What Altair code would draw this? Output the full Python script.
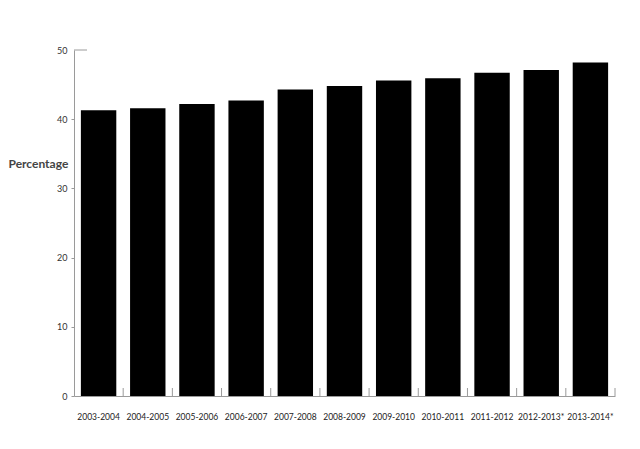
import altair as alt
import pandas as pd

years = ["2003-2004", "2004-2005", "2005-2006", "2006-2007", "2007-2008",
         "2008-2009", "2009-2010", "2010-2011", "2011-2012", "2012-2013*", "2013-2014*"]
values = [41.3, 41.6, 42.2, 42.7, 44.3, 44.8, 45.6, 45.9, 46.7, 47.1, 48.2]
y_ticks = [0, 10, 20, 30, 40, 50]

df = pd.DataFrame({"year": years, "value": values})

W, H = 541, 346
STEP = W / len(years)
GRAY = "#9a9a9a"

xenc = alt.X(
    "year:N", sort=years,
    scale=alt.Scale(paddingInner=0.28, paddingOuter=0.14),
    axis=alt.Axis(title=None, labelAngle=0, ticks=False, tickSize=0, labelPadding=16,
                  labelFont="Lato", labelFontSize=8.5, labelColor="#222",
                  domainColor=GRAY, domainWidth=1),
)

yenc = alt.Y(
    "value:Q",
    scale=alt.Scale(domain=[0, 50], nice=False),
    axis=alt.Axis(values=y_ticks, grid=False, tickSize=3, labelPadding=4,
                  tickColor={"condition": {"test": "datum.value === 50", "value": "transparent"}, "value": GRAY},
                  domainColor=GRAY, labelFont="Lato", labelFontSize=9, labelColor="#333",
                  title="Percentage", titleAngle=0, titleX=-66, titleY=113,
                  titleAlign="left", titleBaseline="middle", titleFont="Lato",
                  titleFontSize=12, titleFontWeight="bold", titleColor="#444"),
)

bars = alt.Chart(df).mark_bar(color="black").encode(x=xenc, y=yenc)

xticks = alt.Chart(df).mark_rule(color=GRAY, xOffset=STEP / 2, strokeWidth=1).encode(
    x=alt.X("year:N", sort=years),
    y=alt.value(H - 8),
    y2=alt.value(H),
)

topline = alt.Chart(pd.DataFrame({"v": [50]})).mark_rule(color=GRAY, strokeWidth=1).encode(
    y=alt.Y("v:Q"),
    x=alt.value(0),
    x2=alt.value(13),
)

chart = alt.layer(bars, xticks, topline).properties(
    width=W, height=H,
    autosize=alt.AutoSizeParams(type="none"),
    padding={"left": 66, "top": 42, "right": 17, "bottom": 45},
).configure_view(stroke=None)

chart.save("out.html", embed_options={"renderer": "svg", "actions": False})
